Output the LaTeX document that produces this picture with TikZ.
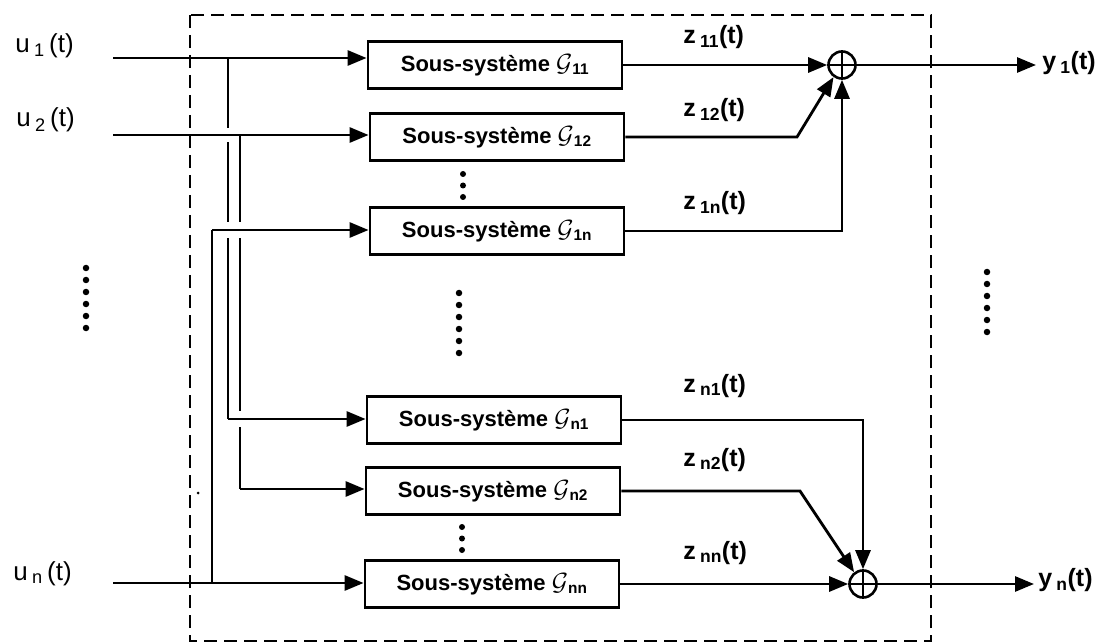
\documentclass[tikz,border=0pt]{standalone}
\usepackage{fontspec}
\setmainfont{Liberation Sans}
\usetikzlibrary{arrows.meta}
\newcommand{\bigG}{{\fontsize{26}{26}\selectfont\(\mathcal{G}\)}}
\begin{document}
\begin{tikzpicture}[x=1pt,y=-1pt,line width=2.8pt,
  sys/.style={draw,line width=2.8pt,minimum width=254pt,minimum height=47pt,inner sep=0pt,
    font=\bfseries\fontsize{22}{24}\selectfont},
  sumnode/.style={draw,circle,minimum size=27pt,inner sep=0pt,line width=2.6pt},
  ulab/.style={inner sep=0pt,anchor=base west,font=\fontsize{26}{30}\selectfont},
  blab/.style={inner sep=0pt,anchor=base west,font=\bfseries\fontsize{25}{30}\selectfont},
  bigdot/.style={circle,fill=black,inner sep=0pt,minimum size=6.5pt},
  arr/.style={-{Triangle[length=19pt,width=15pt]}},
  frame/.style={line width=2.8pt,dash pattern=on 13pt off 7pt}]
\useasboundingbox (0,0) rectangle (1108,644);
% frame
\draw[frame] (190,15) rectangle (931,641);
% subsystem boxes
\node[sys] (G11) at (495,65) {Sous-système \bigG\textsubscript{11}};
\node[sys] (G12) at (497,137) {Sous-système \bigG\textsubscript{12}};
\node[sys] (G1n) at (497,231) {Sous-système \bigG\textsubscript{1n}};
\node[sys] (Gn1) at (494,420) {Sous-système \bigG\textsubscript{n1}};
\node[sys] (Gn2) at (493,491) {Sous-système \bigG\textsubscript{n2}};
\node[sys] (Gnn) at (492,584) {Sous-système \bigG\textsubscript{nn}};
% summing junctions
\node[sumnode] (S1) at (842,65) {};
\node[sumnode] (Sn) at (863,584) {};
\draw[line width=2.2pt] (S1.north) -- (S1.south) (S1.west) -- (S1.east);
\draw[line width=2.2pt] (Sn.north) -- (Sn.south) (Sn.west) -- (Sn.east);
% input coordinates
\coordinate (u1) at (113,58);
\coordinate (u2) at (113,135);
\coordinate (un) at (113,583);
\coordinate (b1) at (228,58);
\coordinate (b2) at (240,135);
\coordinate (bn) at (212,583);
\coordinate (c1) at (228,419);
\coordinate (c2) at (240,489);
\coordinate (cn) at (212,230);
% branch verticals
\draw (b1) -- (c1);
\draw (b2) -- (c2);
\draw (bn) -- (cn);
% crossing gaps
\fill[white] (222,128) rectangle (234,142);
\fill[white] (222,222) rectangle (246,238);
\fill[white] (234,411) rectangle (246,427);
% input lines
\draw[arr] (u1) -- (u1 -| G11.west);
\draw[arr] (u2) -- (u2 -| G12.west);
\draw[arr] (un) -- (un -| Gnn.west);
\draw[arr] (cn) -- (cn -| G1n.west);
\draw[arr] (c1) -- (c1 -| Gn1.west);
\draw[arr] (c2) -- (c2 -| Gn2.west);
% outputs to first sum
\coordinate (k12) at (797,137);
\coordinate (k1n) at (842,231);
\draw[arr] (G11.east) -- (S1.west);
\draw[arr] (G12.east) -- (k12) -- (S1.235);
\draw[arr] (G1n.east) -- (k1n) -- (S1.south);
\coordinate (y1) at (1036,65);
\draw[arr] (S1.east) -- (y1);
% outputs to n-th sum
\coordinate (kn1) at (863,420);
\coordinate (kn2) at (800,491);
\draw[arr] (Gn1.east) -- (kn1) -- (Sn.north);
\draw[arr] (Gn2.east) -- (kn2) -- (Sn.127);
\draw[arr] (Gnn.east) -- (Sn.west);
\coordinate (yn) at (1034,584);
\draw[arr] (Sn.east) -- (yn);
% labels
\node[ulab] (lu1) at (14,53) {u\,\textsubscript{1}\,(t)};
\node[ulab] (lu2) at (15,127) {u\,\textsubscript{2}\,(t)};
\node[ulab] (lun) at (12,580) {u\,\textsubscript{n}\,(t)};
\node[blab] (lz11) at (682,44) {z\,\textsubscript{11}(t)};
\node[blab] (lz12) at (682,117) {z\,\textsubscript{12}(t)};
\node[blab] (lz1n) at (682,210) {z\,\textsubscript{1n}(t)};
\node[blab] (lzn1) at (682,392) {z\,\textsubscript{n1}(t)};
\node[blab] (lzn2) at (682,466) {z\,\textsubscript{n2}(t)};
\node[blab] (lznn) at (682,559) {z\,\textsubscript{nn}(t)};
\node[blab,anchor=west] (ly1) at (1041,63) {y\,\textsubscript{1}(t)};
\node[blab,anchor=west] (lyn) at (1037,580) {y\,\textsubscript{n}(t)};
% dots
\foreach \k in {0,...,5} {
  \node[bigdot] at (86,268+12*\k) {};
  \node[bigdot] at (459,293+12*\k) {};
  \node[bigdot] at (987,272+12*\k) {};
}
\foreach \k in {0,1,2} {
  \node[bigdot,minimum size=6pt] at (463,174+11.5*\k) {};
  \node[bigdot,minimum size=6pt] at (462,527+11.5*\k) {};
}
\node[circle,fill=black,inner sep=0pt,minimum size=3pt] at (198,493) {};
\end{tikzpicture}
\end{document}
